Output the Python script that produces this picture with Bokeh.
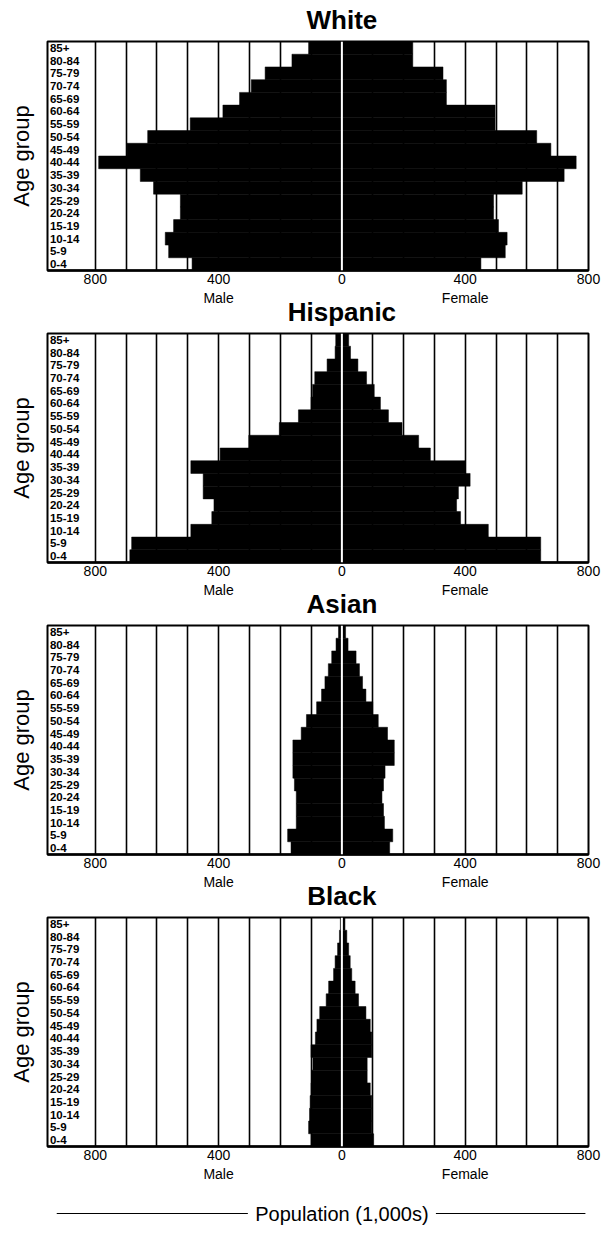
from bokeh.plotting import figure
from bokeh.models import Range1d, FixedTicker, Span, ColumnDataSource
from bokeh.layouts import column
from bokeh.embed import file_html
from bokeh.resources import INLINE
from bokeh.core.properties import value

# ---------------- data (population in 1,000s) ----------------
AGE_GROUPS = ["0-4", "5-9", "10-14", "15-19", "20-24", "25-29", "30-34",
              "35-39", "40-44", "45-49", "50-54", "55-59", "60-64", "65-69",
              "70-74", "75-79", "80-84", "85+"]

WHITE_MALE = [486, 562, 573, 546, 524, 524, 611, 654, 789, 697, 630, 492,
              386, 332, 294, 249, 162, 108]
WHITE_FEMALE = [451, 530, 536, 508, 492, 492, 585, 721, 760, 678, 632, 497,
                497, 339, 339, 328, 230, 230]

HISPANIC_MALE = [688, 682, 490, 422, 415, 450, 450, 490, 395, 302, 203, 141,
                 100, 95, 88, 48, 22, 20]
HISPANIC_FEMALE = [645, 645, 475, 385, 372, 378, 416, 400, 287, 249, 195, 151,
                   125, 105, 80, 52, 28, 22]

ASIAN_MALE = [165, 176, 148, 148, 148, 154, 159, 159, 159, 132, 115, 82,
              66, 55, 44, 33, 19, 11]
ASIAN_FEMALE = [155, 165, 138, 135, 130, 135, 140, 170, 170, 148, 118, 100,
                78, 67, 57, 46, 20, 12]

BLACK_MALE = [100, 108, 105, 103, 100, 97, 94, 100, 86, 81, 72, 51,
              43, 27, 22, 14, 8, 5]
BLACK_FEMALE = [103, 97, 97, 97, 92, 82, 82, 97, 97, 92, 78, 54,
                43, 32, 27, 22, 16, 10]

PANEL_TITLES = ["White", "Hispanic", "Asian", "Black"]
PANEL_MALE = [WHITE_MALE, HISPANIC_MALE, ASIAN_MALE, BLACK_MALE]
PANEL_FEMALE = [WHITE_FEMALE, HISPANIC_FEMALE, ASIAN_FEMALE, BLACK_FEMALE]

X_TICKS = [-800, -400, 0, 400, 800]
X_TICK_LABELS = ["800", "400", "0", "400", "800"]
SEX_POS = [-400, 400]
SEX_LABELS = ["Male", "Female"]
GRID_TICKS = [-800, -700, -600, -500, -400, -300, -200, -100,
              100, 200, 300, 400, 500, 600, 700]
FOOTER_TEXT = "Population (1,000s)"

X_MIN, X_MAX = -955, 800
FONT = "Liberation Sans"
FIG_W = 603
BORDER_L, BORDER_R = 47, 15
PANEL_H = 247          # frame (~227) + tick-label axis
STRIP_TOP_H = 39
STRIP_H = 45
FOOT_H = 64


def base_strip(height):
    s = figure(width=FIG_W, height=height, x_range=Range1d(X_MIN, X_MAX),
               y_range=Range1d(0, height), output_backend="svg",
               toolbar_location=None, min_border_left=BORDER_L,
               min_border_right=BORDER_R, min_border_top=0,
               min_border_bottom=0)
    s.axis.visible = False
    s.grid.visible = False
    s.outline_line_color = None
    s.background_fill_color = "white"
    s.border_fill_color = "white"
    return s


def add_sex_labels(s, height):
    s.text(x=SEX_POS, y=[height - 11] * 2, text=SEX_LABELS,
           text_font=value(FONT), text_font_size="14px",
           text_align="center", text_baseline="middle", text_color="black")


def add_title(s, title, from_top):
    s.text(x=[0], y=[s.y_range.end - from_top], text=[title],
           text_font=value(FONT), text_font_style="bold",
           text_font_size="26px", text_align="center",
           text_baseline="middle", text_color="black")


def make_panel(male, female):
    n = len(AGE_GROUPS)
    p = figure(width=FIG_W, height=PANEL_H,
               x_range=Range1d(X_MIN, X_MAX), y_range=Range1d(0, n),
               output_backend="svg", toolbar_location=None,
               min_border_left=BORDER_L, min_border_right=BORDER_R,
               min_border_top=2, min_border_bottom=0)
    p.background_fill_color = "white"
    p.border_fill_color = "white"
    p.outline_line_color = "black"
    p.outline_line_width = 2

    # grid: vertical black lines every 100
    p.xgrid.ticker = FixedTicker(ticks=GRID_TICKS)
    p.xgrid.grid_line_color = "black"
    p.xgrid.grid_line_width = 1.6
    p.ygrid.visible = False

    xa = p.xaxis[0]
    xa.ticker = FixedTicker(ticks=X_TICKS)
    xa.major_label_overrides = {t: l for t, l in zip(X_TICKS, X_TICK_LABELS)}
    xa.axis_line_width = 2.5
    xa.axis_line_color = "black"
    xa.major_tick_line_color = None
    xa.minor_tick_line_color = None
    xa.major_tick_out = 0
    xa.major_tick_in = 0
    xa.minor_tick_out = 0
    xa.major_label_standoff = 3
    xa.major_label_text_font = FONT
    xa.major_label_text_font_size = "14px"
    xa.major_label_text_color = "black"

    # y axis only carries the label
    ya = p.yaxis[0]
    ya.ticker = FixedTicker(ticks=[])
    ya.axis_line_color = None
    ya.major_tick_line_color = None
    ya.minor_tick_line_color = None
    ya.major_tick_out = 0
    ya.axis_label = "Age group"
    ya.axis_label_text_font = FONT
    ya.axis_label_text_font_style = "normal"
    ya.axis_label_text_font_size = "22px"
    ya.axis_label_text_color = "black"
    ya.axis_label_standoff = 14

    ys = [i + 0.5 for i in range(n)]
    src = ColumnDataSource(dict(y=ys, male_left=[-v for v in male],
                                female_right=female,
                                zero=[0] * n, age=AGE_GROUPS,
                                lx=[X_MIN + 8] * n))
    p.hbar(y="y", left="male_left", right="zero", height=1, source=src,
           fill_color="black", line_color="black", line_width=0.5)
    p.hbar(y="y", left="zero", right="female_right", height=1, source=src,
           fill_color="black", line_color="black", line_width=0.5)

    p.text(x="lx", y="y", text="age", source=src,
           text_font=value(FONT), text_font_style="bold",
           text_font_size="11.5px", text_baseline="middle",
           text_align="left", text_color="black")

    p.add_layout(Span(location=0, dimension="height", line_color="white",
                      line_width=2))
    return p


children = []
for k, (title, male, female) in enumerate(zip(PANEL_TITLES, PANEL_MALE,
                                              PANEL_FEMALE)):
    if k == 0:
        strip = base_strip(STRIP_TOP_H)
        add_title(strip, title, 19)
    else:
        strip = base_strip(STRIP_H)
        add_sex_labels(strip, STRIP_H)
        add_title(strip, title, 25)
    children.append(strip)
    children.append(make_panel(male, female))

# footer: Male/Female of the last panel and "Population (1,000s)"
foot = base_strip(FOOT_H)
add_sex_labels(foot, FOOT_H)
foot.text(x=[0], y=[13], text=[FOOTER_TEXT],
          text_font=value(FONT), text_font_size="20px",
          text_align="center", text_baseline="middle", text_color="black")
foot.segment(x0=[X_MIN + 30, 305], x1=[-305, X_MAX - 10], y0=[13, 13],
             y1=[13, 13], line_color="black", line_width=1)
children.append(foot)

layout = column(*children, spacing=0)

with open("out.html", "w") as fh:
    fh.write(file_html(layout, INLINE))
